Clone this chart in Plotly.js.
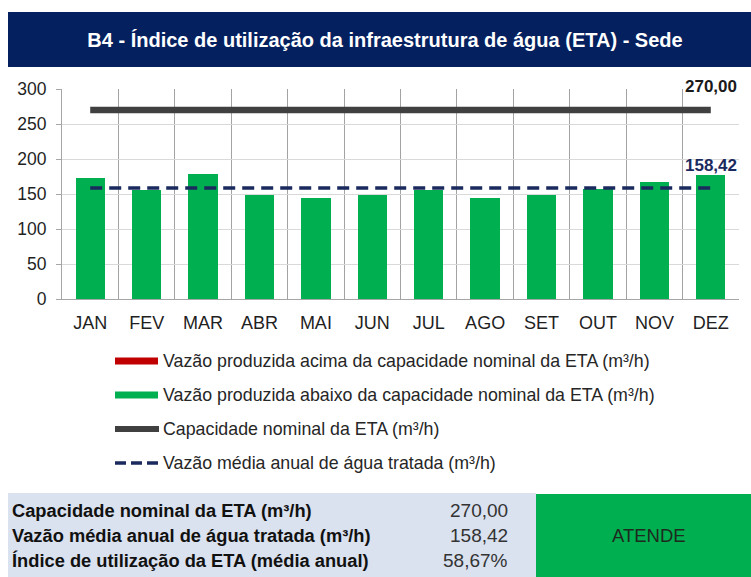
<!DOCTYPE html>
<html>
<head>
<meta charset="utf-8">
<script src="https://cdn.plot.ly/plotly-3.0.1.min.js"></script>
<style>html,body{margin:0;padding:0;background:#fff;}#chart{width:751px;height:577px;}</style>
</head>
<body>
<div id="chart"></div>
<script>
// ---- data ----
var months = ['JAN','FEV','MAR','ABR','MAI','JUN','JUL','AGO','SET','OUT','NOV','DEZ'];
var vazaoAcima = [0,0,0,0,0,0,0,0,0,0,0,0];
var vazaoAbaixo = [173,156,178,149,145,149,156,145,148,157,167,177];
var capacidade = [270,270,270,270,270,270,270,270,270,270,270,270];
var vazaoMedia = [158.42,158.42,158.42,158.42,158.42,158.42,158.42,158.42,158.42,158.42,158.42,158.42];
var titleText = 'B4 - Índice de utilização da infraestrutura de água (ETA) - Sede';
var legendLabels = [
  'Vazão produzida acima da capacidade nominal da ETA (m³/h)',
  'Vazão produzida abaixo da capacidade nominal da ETA (m³/h)',
  'Capacidade nominal da ETA (m³/h)',
  'Vazão média anual de água tratada (m³/h)'
];
var tableLabels = ['Capacidade nominal da ETA (m³/h)','Vazão média anual de água tratada (m³/h)','Índice de utilização da ETA (média anual)'];
var tableValues = ['270,00','158,42','58,67%'];
var statusText = 'ATENDE';

// ---- geometry helpers (pixel -> paper) ----
var L = 62, R = 739, T = 89, B = 299;
var W = R - L, H = B - T;
function px(x){ return (x - L) / W; }
function py(y){ return (B - y) / H; }
function fmt(v){ return v.toFixed(2).replace('.', ','); }

var FONT = 'Liberation Sans, Arial, sans-serif';
var GREEN = '#00b050', RED = '#c00000', DARK = '#404040', NAVY = '#1b2a5e';

var traces = [
  {type:'bar', x: months, y: vazaoAbaixo, marker:{color: GREEN, line:{width:0}}, width:0.52, hoverinfo:'skip'},
  {type:'bar', x: months, y: vazaoAcima, marker:{color: RED, line:{width:0}}, width:0.52, hoverinfo:'skip'},
  {type:'scatter', mode:'lines', x: months, y: capacidade, line:{color: DARK, width:6.5}, hoverinfo:'skip'},
  {type:'scatter', mode:'lines', x: months, y: vazaoMedia, line:{color: NAVY, width:3.5, dash:'12px,7px'}, hoverinfo:'skip'}
];

var shapes = [];
var annotations = [];

// title bar
shapes.push({type:'rect', xref:'paper', yref:'paper', x0:px(8), x1:px(751), y0:py(67), y1:py(12), fillcolor:'#04205f', line:{width:0}, layer:'below'});

// legend
var rows = [361, 395, 429, 463];
shapes.push({type:'rect', xref:'paper', yref:'paper', x0:px(115), x1:px(158), y0:py(rows[0]+3.5), y1:py(rows[0]-3.5), fillcolor:RED, line:{width:0}});
shapes.push({type:'rect', xref:'paper', yref:'paper', x0:px(115), x1:px(158), y0:py(rows[1]+3.5), y1:py(rows[1]-3.5), fillcolor:GREEN, line:{width:0}});
shapes.push({type:'line', xref:'paper', yref:'paper', x0:px(115), x1:px(159), y0:py(rows[2]), y1:py(rows[2]), line:{color:DARK, width:6}});
shapes.push({type:'line', xref:'paper', yref:'paper', x0:px(115), x1:px(159), y0:py(rows[3]), y1:py(rows[3]), line:{color:NAVY, width:3.5, dash:'11px,5px'}});
for (var i = 0; i < legendLabels.length; i++) {
  annotations.push({xref:'paper', yref:'paper', x:px(161), y:py(rows[i]), xanchor:'left', yanchor:'middle', showarrow:false,
    text: legendLabels[i], font:{family:FONT, size:17.8, color:'#262626'}});
}

// data labels on line ends
annotations.push({x: months[11], y: capacidade[11], xref:'x', yref:'y', text: '<b>' + fmt(capacidade[11]) + '</b>', showarrow:false,
  yshift: 24, font:{family:FONT, size:17, color:'#1a1a1a'}});
annotations.push({x: months[11], y: vazaoMedia[11], xref:'x', yref:'y', text: '<b>' + fmt(vazaoMedia[11]) + '</b>', showarrow:false,
  yshift: 23, font:{family:FONT, size:17, color:NAVY}});

// summary table
shapes.push({type:'rect', xref:'paper', yref:'paper', x0:px(8), x1:px(536), y0:py(577), y1:py(493), fillcolor:'#dae1ef', line:{width:0}, layer:'below'});
shapes.push({type:'rect', xref:'paper', yref:'paper', x0:px(536), x1:px(751), y0:py(577), y1:py(494), fillcolor:GREEN, line:{width:0}, layer:'below'});
var trows = [510, 535, 560];
for (var j = 0; j < tableLabels.length; j++) {
  annotations.push({xref:'paper', yref:'paper', x:px(10), y:py(trows[j]), xanchor:'left', yanchor:'middle', showarrow:false,
    text:'<b>' + tableLabels[j] + '</b>', font:{family:FONT, size:18.3, color:'#111'}});
  annotations.push({xref:'paper', yref:'paper', x:px(510), y:py(trows[j]), xanchor:'right', yanchor:'middle', showarrow:false,
    text: tableValues[j], font:{family:FONT, size:19, color:'#333'}});
}
annotations.push({xref:'paper', yref:'paper', x:px(649), y:py(535), xanchor:'center', yanchor:'middle', showarrow:false,
  text: statusText, font:{family:FONT, size:18.5, color:'#1e2a1e'}});

var layout = {
  width: 751, height: 577,
  margin: {l: L, r: 751 - R, t: T, b: 577 - B, pad: 0},
  paper_bgcolor: '#ffffff', plot_bgcolor: '#ffffff',
  font: {family: FONT, color: '#262626'},
  title: {text: titleText, font:{family: FONT, size: 20, color:'#ffffff', weight: 'bold'},
          x: 385/751, xanchor:'center', xref:'container', y: 1 - 40/577, yanchor:'middle', yref:'container'},
  barmode: 'stack',
  showlegend: false,
  hovermode: false,
  xaxis: {type:'category', range:[-0.5, 11.5], tickson:'boundaries', showgrid:true, gridcolor:'#a3a3a3', gridwidth:1,
          showline:true, linecolor:'#a6a6a6', linewidth:1, ticks:'', ticklabelstandoff: 7,
          tickfont:{size:18, color:'#1f1f1f'}, fixedrange:true},
  yaxis: {range:[0, 300], dtick:50, tick0:0, showgrid:true, gridcolor:'#d9d9d9', gridwidth:1, zeroline:false,
          showline:true, linecolor:'#a6a6a6', linewidth:1, ticks:'outside', ticklen:5, tickcolor:'#a6a6a6',
          ticklabelstandoff: 6, tickfont:{size:17.5, color:'#1f1f1f'}, fixedrange:true},
  shapes: shapes,
  annotations: annotations
};

Plotly.newPlot('chart', traces, layout, {displayModeBar:false, staticPlot:true});
</script>
</body>
</html>
